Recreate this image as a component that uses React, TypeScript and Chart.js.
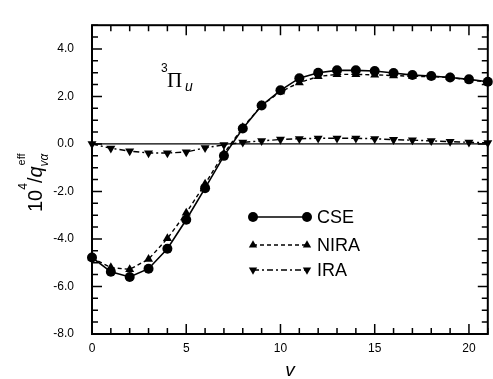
import React, { useEffect, useRef } from 'react';
import { Chart, registerables } from 'chart.js';

Chart.register(...registerables);

// ---- data ----
const vLevels = [0, 1, 2, 3, 4, 5, 6, 7, 8, 9, 10, 11, 12, 13, 14, 15, 16, 17, 18, 19, 20, 21];
const cseValues = [-4.78, -5.38, -5.6, -5.25, -4.41, -3.19, -1.86, -0.5, 0.65, 1.62, 2.26, 2.77, 3.0, 3.1, 3.1, 3.07, 2.99, 2.9, 2.86, 2.8, 2.72, 2.62];
const niraValues = [-4.8, -5.2, -5.28, -4.85, -3.98, -2.9, -1.68, -0.4, 0.7, 1.62, 2.2, 2.58, 2.84, 2.93, 2.93, 2.91, 2.88, 2.85, 2.83, 2.8, 2.7, 2.6];
const iraValues = [0.0, -0.18, -0.3, -0.38, -0.38, -0.34, -0.16, -0.04, 0.07, 0.13, 0.19, 0.22, 0.24, 0.24, 0.24, 0.22, 0.18, 0.16, 0.13, 0.1, 0.07, 0.05];
const seriesNames = ['CSE', 'NIRA', 'IRA'];
const yTickValues = [-8, -6, -4, -2, 0, 2, 4];
const xTickValues = [0, 5, 10, 15, 20];

const SANS = '"Liberation Sans", Arial, Helvetica, sans-serif';
const SERIF = '"Liberation Serif", "Times New Roman", serif';

function drawMarker(ctx: CanvasRenderingContext2D, style: string, x: number, y: number, r: number) {
  ctx.beginPath();
  if (style === 'circle') {
    ctx.arc(x, y, r, 0, Math.PI * 2);
  } else {
    const dir = style === 'down' ? -1 : 1;
    for (let i = 0; i < 3; i++) {
      const a = -Math.PI / 2 * dir + (i * 2 * Math.PI) / 3;
      const px = x + Math.cos(a) * r;
      const py = y + Math.sin(a) * r;
      if (i === 0) ctx.moveTo(px, py);
      else ctx.lineTo(px, py);
    }
    ctx.closePath();
  }
  ctx.fill();
}

const decorPlugin = {
  id: 'decor',
  beforeDatasetsDraw(chart: any) {
    const { ctx, chartArea, scales } = chart;
    const y0 = scales.y.getPixelForValue(0);
    ctx.save();
    ctx.strokeStyle = '#000';
    ctx.lineWidth = 1.3;
    ctx.beginPath();
    ctx.moveTo(chartArea.left, y0);
    ctx.lineTo(chartArea.right, y0);
    ctx.stroke();
    ctx.restore();
  },
  afterDatasetsDraw(chart: any) {
    const { ctx, chartArea, scales } = chart;
    const { left, right, top, bottom } = chartArea;
    const xs = scales.x;
    const ys = scales.y;
    ctx.save();
    ctx.strokeStyle = '#000';
    ctx.fillStyle = '#000';
    ctx.setLineDash([]);

    // ticks (inside, all four sides)
    ctx.lineWidth = 1.5;
    ctx.beginPath();
    for (let v = xs.min; v <= xs.max + 1e-9; v += 1) {
      const px = xs.getPixelForValue(v);
      const len = Math.abs(v % 5) < 1e-9 ? 10 : 6;
      ctx.moveTo(px, bottom);
      ctx.lineTo(px, bottom - len);
      ctx.moveTo(px, top);
      ctx.lineTo(px, top + len);
    }
    for (let v = ys.min; v <= ys.max + 1e-9; v += 0.5) {
      const py = ys.getPixelForValue(v);
      const len = Math.abs(v % 2) < 1e-9 ? 10 : 6;
      ctx.moveTo(left, py);
      ctx.lineTo(left + len, py);
      ctx.moveTo(right, py);
      ctx.lineTo(right - len, py);
    }
    ctx.stroke();

    // frame
    ctx.lineWidth = 2;
    ctx.strokeRect(left, top, right - left, bottom - top);

    // legend
    const rows = [217, 245, 270];
    const lx1 = 253;
    const lx2 = 307;
    chart.data.datasets.forEach((ds: any, i: number) => {
      const yy = rows[i];
      ctx.lineWidth = ds.borderWidth;
      ctx.setLineDash(ds.borderDash || []);
      ctx.beginPath();
      ctx.moveTo(lx1, yy);
      ctx.lineTo(lx2, yy);
      ctx.stroke();
      ctx.setLineDash([]);
      const ms = ds.markerKind;
      const r = ms === 'circle' ? 5 : 4.8;
      drawMarker(ctx, ms, lx1, yy, r);
      drawMarker(ctx, ms, lx2, yy, r);
      ctx.font = `18px ${SANS}`;
      ctx.textBaseline = 'middle';
      ctx.textAlign = 'left';
      ctx.fillText(ds.label, 317, yy + 1);
    });

    // state label  3Πu
    ctx.textBaseline = 'alphabetic';
    ctx.textAlign = 'left';
    ctx.font = `12px ${SANS}`;
    ctx.fillText('3', 161, 72);
    ctx.font = `21px ${SERIF}`;
    ctx.fillText('Π', 167, 87);
    ctx.font = `italic 14px ${SANS}`;
    ctx.fillText('u', 185, 91);

    // x-axis title
    ctx.font = `italic 19px ${SANS}`;
    ctx.textAlign = 'center';
    ctx.fillText('v', 290, 376);

    // y-axis title (rotated)
    ctx.translate(42, 212);
    ctx.rotate(-Math.PI / 2);
    ctx.textAlign = 'left';
    let tx = 0;
    ctx.font = `20px ${SANS}`;
    ctx.fillText('10', tx, 0);
    tx += ctx.measureText('10').width;
    ctx.font = `12px ${SANS}`;
    ctx.fillText('4', tx, -15);
    tx += ctx.measureText('4').width;
    ctx.font = `20px ${SANS}`;
    ctx.fillText('/', tx, 0);
    tx += ctx.measureText('/').width;
    ctx.font = `italic 20px ${SANS}`;
    ctx.fillText('q', tx, 0);
    tx += ctx.measureText('q').width;
    ctx.font = `italic 12px ${SANS}`;
    ctx.fillText('vα', tx, 6);
    ctx.font = `11px ${SANS}`;
    ctx.fillText('eff', tx + 1, -17);

    ctx.restore();
  },
};

export default function App() {
  const canvasRef = useRef<HTMLCanvasElement | null>(null);

  useEffect(() => {
    const canvas = canvasRef.current;
    if (!canvas) return;
    const mk = (vals: number[]) => vLevels.map((v, i) => ({ x: v, y: vals[i] }));
    const chart = new Chart(canvas, {
      type: 'line',
      data: {
        datasets: [
          {
            label: seriesNames[0],
            data: mk(cseValues),
            borderColor: '#000',
            backgroundColor: '#000',
            borderWidth: 1.6,
            pointStyle: 'circle',
            pointRadius: 5,
            pointBorderWidth: 0,
            pointBackgroundColor: '#000',
            tension: 0,
            clip: false,
            markerKind: 'circle',
          } as any,
          {
            label: seriesNames[1],
            data: mk(niraValues),
            borderColor: '#000',
            backgroundColor: '#000',
            borderWidth: 1.4,
            borderDash: [4, 3],
            pointStyle: 'triangle',
            pointRadius: 5.2,
            pointBorderWidth: 0,
            pointBackgroundColor: '#000',
            tension: 0,
            clip: false,
            markerKind: 'up',
          } as any,
          {
            label: seriesNames[2],
            data: mk(iraValues),
            borderColor: '#000',
            backgroundColor: '#000',
            borderWidth: 1.4,
            borderDash: [6, 3, 2, 3],
            pointStyle: 'triangle',
            pointRotation: 180,
            pointRadius: 5.2,
            pointBorderWidth: 0,
            pointBackgroundColor: '#000',
            tension: 0,
            clip: false,
            markerKind: 'down',
          } as any,
        ],
      },
      options: {
        responsive: false,
        animation: false,
        devicePixelRatio: 1,
        layout: { padding: { top: 8, right: 2, left: 0, bottom: 0 } },
        plugins: { legend: { display: false }, tooltip: { enabled: false } },
        scales: {
          x: {
            type: 'linear',
            min: 0,
            max: 21,
            grid: { display: false, drawTicks: false },
            border: { display: false },
            afterBuildTicks: (s: any) => {
              s.ticks = xTickValues.map((v) => ({ value: v }));
            },
            afterFit: (s: any) => {
              s.height = 45;
            },
            ticks: {
              padding: 7,
              maxRotation: 0,
              color: '#000',
              font: { family: SANS, size: 12 },
              callback: (v: any) => String(v),
            },
          },
          y: {
            type: 'linear',
            min: -8,
            max: 5,
            grid: { display: false, drawTicks: false },
            border: { display: false },
            afterBuildTicks: (s: any) => {
              s.ticks = yTickValues.map((v) => ({ value: v }));
            },
            afterFit: (s: any) => {
              s.width = 92;
            },
            ticks: {
              padding: 18,
              color: '#000',
              font: { family: SANS, size: 12 },
              callback: (v: any) => Number(v).toFixed(1),
            },
          },
        },
      } as any,
      plugins: [decorPlugin],
    });
    return () => chart.destroy();
  }, []);

  return (
    <div style={{ position: 'absolute', left: 0, top: 0, width: 493, height: 379, background: '#fff' }}>
      <canvas ref={canvasRef} width={493} height={379} style={{ width: 493, height: 379, display: 'block' }} />
    </div>
  );
}
